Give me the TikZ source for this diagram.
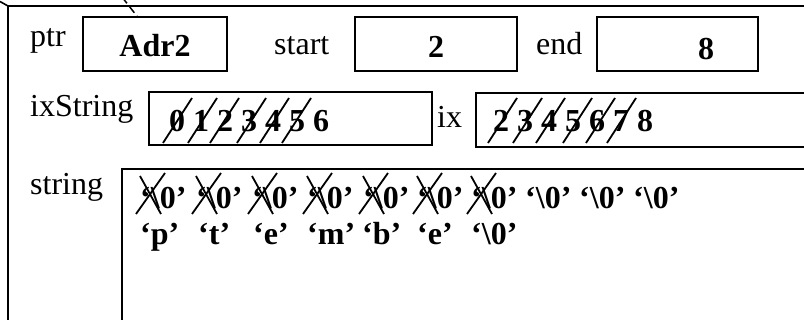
\documentclass[tikz,border=0pt]{standalone}
\usepackage{fontspec}
\setmainfont{Liberation Serif}
\newcommand{\bigtxt}{\fontsize{32}{37}\selectfont}
\newcommand{\nulch}{`\textbackslash0'}

\begin{document}
\begin{tikzpicture}[x=1pt,y=-1pt,
  cell/.style={draw, line width=1.6pt, inner sep=0pt},
  strike/.style={line width=1.8pt},
  lbl/.style={font=\bigtxt, anchor=base west, inner sep=0pt},
  val/.style={font=\bigtxt\bfseries, anchor=base west, inner sep=0pt},
  ptrline/.style={line width=1.5pt, dash pattern=on 8pt off 4pt}]
\useasboundingbox (0,0) rectangle (804,320);
\clip (0,0) rectangle (804,320);
\draw[line width=1.6pt] (0,1.5) -- (8,6) -- (8,330);
\draw[line width=1.6pt] (8,6) -- (812,6);
\node[cell, minimum width=144, minimum height=54] (adr) at (155,44) {};
\node[cell, minimum width=162, minimum height=54] (startbox) at (436,44) {};
\node[cell, minimum width=161, minimum height=54] (endbox) at (677.5,44) {};
\node[cell, minimum width=283, minimum height=53] (ixsbox) at (290.5,118.5) {};
\node[cell, minimum width=384, minimum height=54] (ixbox) at (668,120) {};
\node[cell, minimum width=738, minimum height=211] (strbox) at (491,274.5) {};
\coordinate (adrsrc) at (122,-3);
\draw[ptrline] (adrsrc) -- ([xshift=-18pt]adr.north);
\node[lbl] (tptr) at (30,47) {ptr};
\node[val, anchor=base] (tadr) at (155,57) {Adr2};
\node[lbl] (tstart) at (274,55) {start};
\node[val, anchor=base] (tstartv) at (436,58) {2};
\node[lbl] (tend) at (536,55) {end};
\node[val, anchor=base] (tendv) at (706,60) {8};
\node[lbl] (tixs) at (30,117) {ixString};
\node[val] (tixsv) at (169,132) {0 1 2 3 4 5 6};
\node[lbl] (tix) at (437,128) {ix};
\node[val] (tixv) at (493,132) {2 3 4 5 6 7 8};
\draw[strike] (163,143) -- (192,98);
\draw[strike] (188,143) -- (217,98);
\draw[strike] (210,143) -- (239,98);
\draw[strike] (237,143) -- (266,98);
\draw[strike] (260,143) -- (289,98);
\draw[strike] (282,143) -- (311,98);
\draw[strike] (488,143) -- (517,98);
\draw[strike] (513,143) -- (542,98);
\draw[strike] (536,143) -- (565,98);
\draw[strike] (563,143) -- (592,98);
\draw[strike] (586,143) -- (615,98);
\draw[strike] (607,143) -- (636,98);
\node[lbl] (tstr) at (30,195) {string};
\node[val] (n0) at (140,209) {\nulch};
\node[val] (n1) at (196,209) {\nulch};
\node[val] (n2) at (252,209) {\nulch};
\node[val] (n3) at (307,209) {\nulch};
\node[val] (n4) at (363,209) {\nulch};
\node[val] (n5) at (417,209) {\nulch};
\node[val] (n6) at (471,209) {\nulch};
\node[val] (n7) at (525,209) {\nulch};
\node[val] (n8) at (579,209) {\nulch};
\node[val] (n9) at (633,209) {\nulch};
\draw[strike] (140,176) -- (161,214); \draw[strike] (136,214) -- (165,173);
\draw[strike] (196,176) -- (217,214); \draw[strike] (192,214) -- (221,173);
\draw[strike] (252,176) -- (273,214); \draw[strike] (248,214) -- (277,173);
\draw[strike] (307,176) -- (328,214); \draw[strike] (303,214) -- (332,173);
\draw[strike] (363,176) -- (384,214); \draw[strike] (359,214) -- (388,173);
\draw[strike] (417,176) -- (438,214); \draw[strike] (413,214) -- (442,173);
\draw[strike] (471,176) -- (492,214); \draw[strike] (467,214) -- (496,173);
\node[val] (c0) at (140,245) {`p'};
\node[val] (c1) at (198,245) {`t'};
\node[val] (c2) at (253,245) {`e'};
\node[val] (c3) at (307,245) {`m'};
\node[val] (c4) at (362,245) {`b'};
\node[val] (c5) at (417,245) {`e'};
\node[val] (c6) at (471,245) {\nulch};
\end{tikzpicture}
\end{document}
